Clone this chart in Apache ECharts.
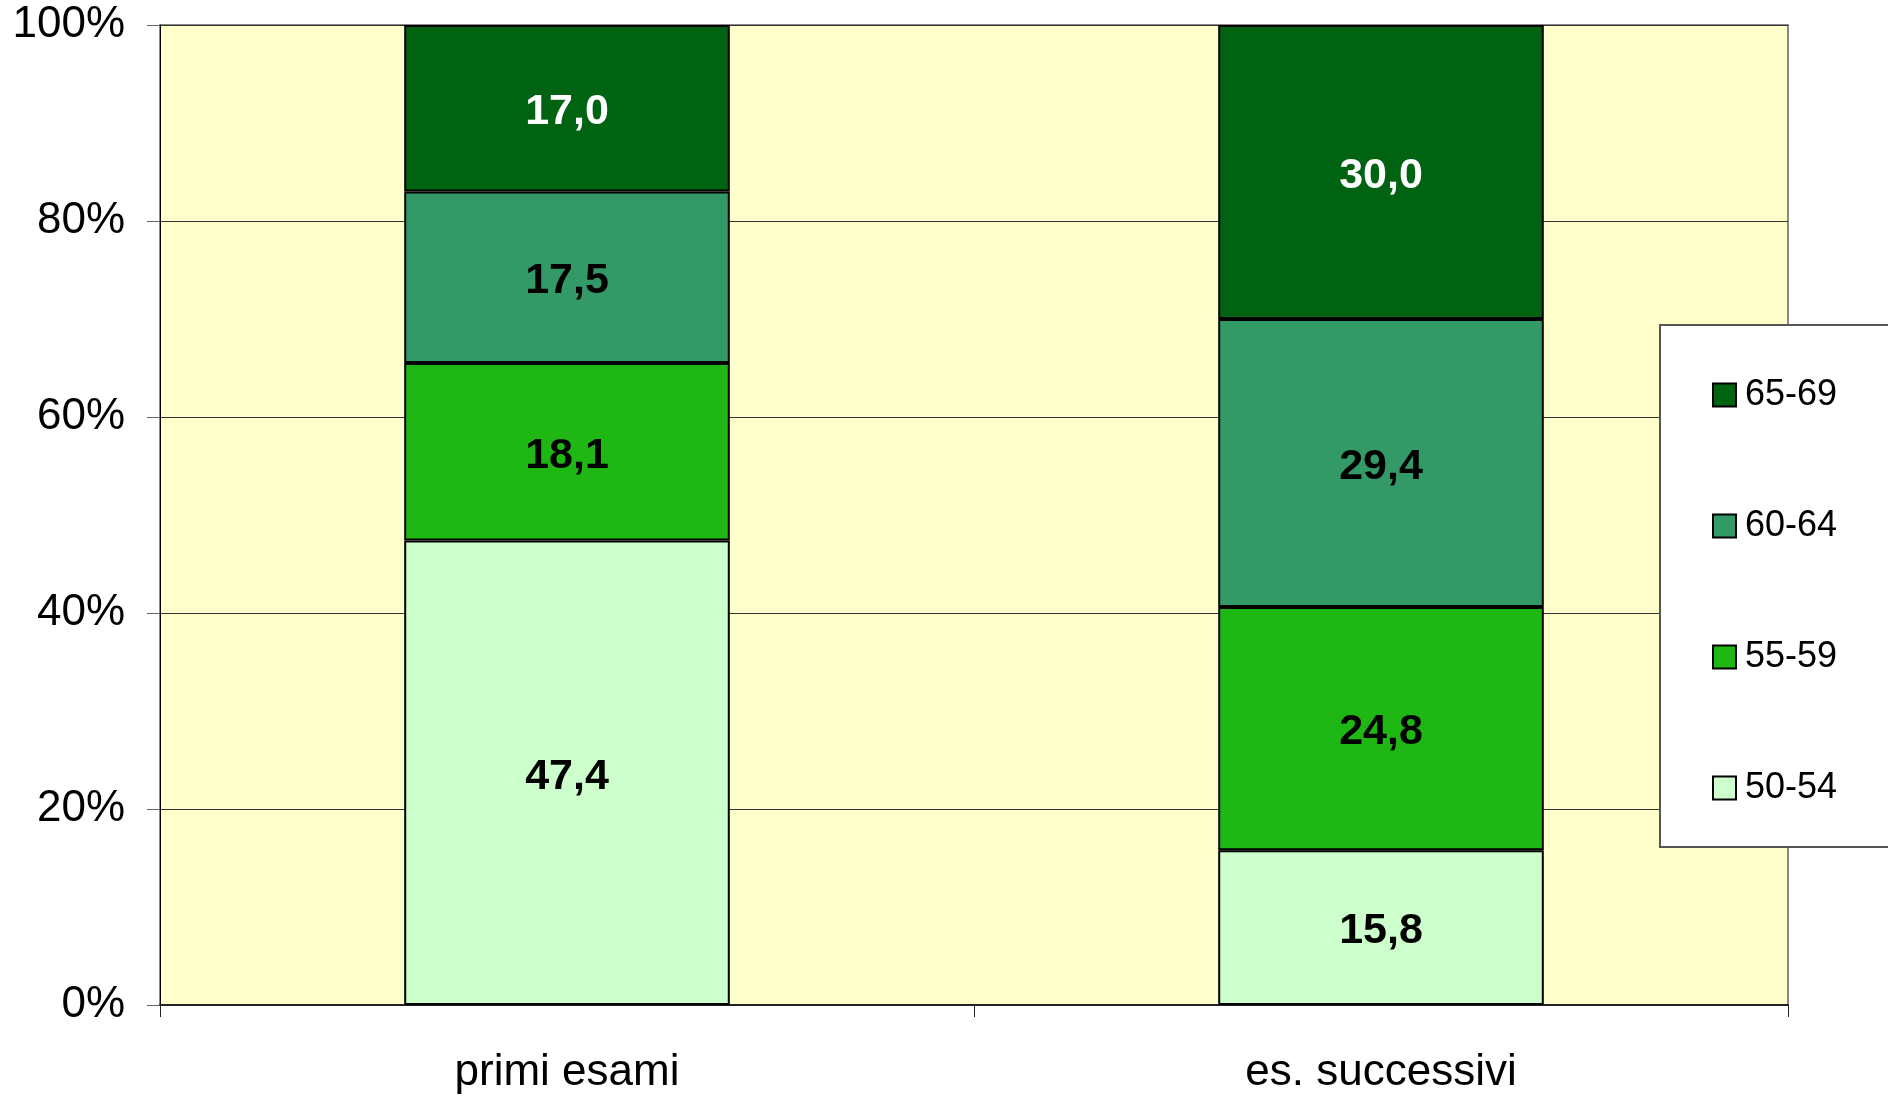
<!DOCTYPE html>
<html>
<head>
<meta charset="utf-8">
<script src="https://cdn.jsdelivr.net/npm/echarts@6/dist/echarts.min.js"></script>
<style>
  html, body { margin: 0; padding: 0; background: #fff; }
  #chart { width: 1888px; height: 1096px; }
</style>
</head>
<body>
<div id="chart"></div>
<script>
// categorie asse x
var categories = ['primi esami', 'es. successivi'];
// classi di età (dal basso verso l'alto)
var ageClasses = ['50-54', '55-59', '60-64', '65-69'];
// valori percentuali per classe
var val5054 = [47.4, 15.8];
var val5559 = [18.1, 24.8];
var val6064 = [17.5, 29.4];
var val6569 = [17.0, 30.0];
var colors = ['#CCFFCC', '#1FB714', '#339966', '#006312'];
var labelColors = ['#000', '#000', '#000', '#fff'];

var font = 'Liberation Sans, Arial, sans-serif';
var values = [val5054, val5559, val6064, val6569];

var series = [];
for (var i = 0; i < ageClasses.length; i++) {
  series.push({
    name: ageClasses[i],
    type: 'bar',
    stack: 'tot',
    barWidth: '40%',
    data: values[i],
    itemStyle: { color: colors[i], borderColor: '#000', borderWidth: 2 },
    label: {
      show: true,
      position: 'inside',
      offset: [0, 4],
      color: labelColors[i],
      fontFamily: font,
      fontWeight: 'bold',
      fontSize: 43,
      formatter: function (p) { return p.value.toFixed(1).replace('.', ','); }
    }
  });
}

var chart = echarts.init(document.getElementById('chart'));
chart.setOption({
  animation: false,
  backgroundColor: '#fff',
  grid: {
    left: 160, right: 100, top: 25, bottom: 91,
    show: true,
    backgroundColor: '#FFFFCC',
    borderColor: '#888',
    borderWidth: 2
  },
  legend: {
    orient: 'vertical',
    left: 1660,
    top: 325,
    data: ['65-69', '60-64', '55-59', '50-54'],
    icon: 'rect',
    itemWidth: 23,
    itemHeight: 23,
    itemGap: 95,
    padding: [52, 70, 41, 52],
    backgroundColor: '#fff',
    borderColor: '#555',
    borderWidth: 2,
    textStyle: { fontFamily: font, fontSize: 36, color: '#000', padding: [0, 0, 0, 4] }
  },
  xAxis: {
    type: 'category',
    data: categories,
    axisLine: { lineStyle: { color: '#222', width: 2 } },
    axisTick: { show: true, length: 12, lineStyle: { color: '#222', width: 1 } },
    axisLabel: { fontFamily: font, fontSize: 44, color: '#000', margin: 46 }
  },
  yAxis: {
    type: 'value',
    min: 0,
    max: 100,
    interval: 20,
    axisLine: { show: true, lineStyle: { color: '#000', width: 1 } },
    axisTick: { show: true, length: 13, lineStyle: { color: '#666', width: 1 } },
    axisLabel: { fontFamily: font, fontSize: 44, color: '#000', margin: 35, formatter: '{value}%' },
    splitLine: { lineStyle: { color: '#333', width: 1 } }
  },
  series: series
});
</script>
</body>
</html>
